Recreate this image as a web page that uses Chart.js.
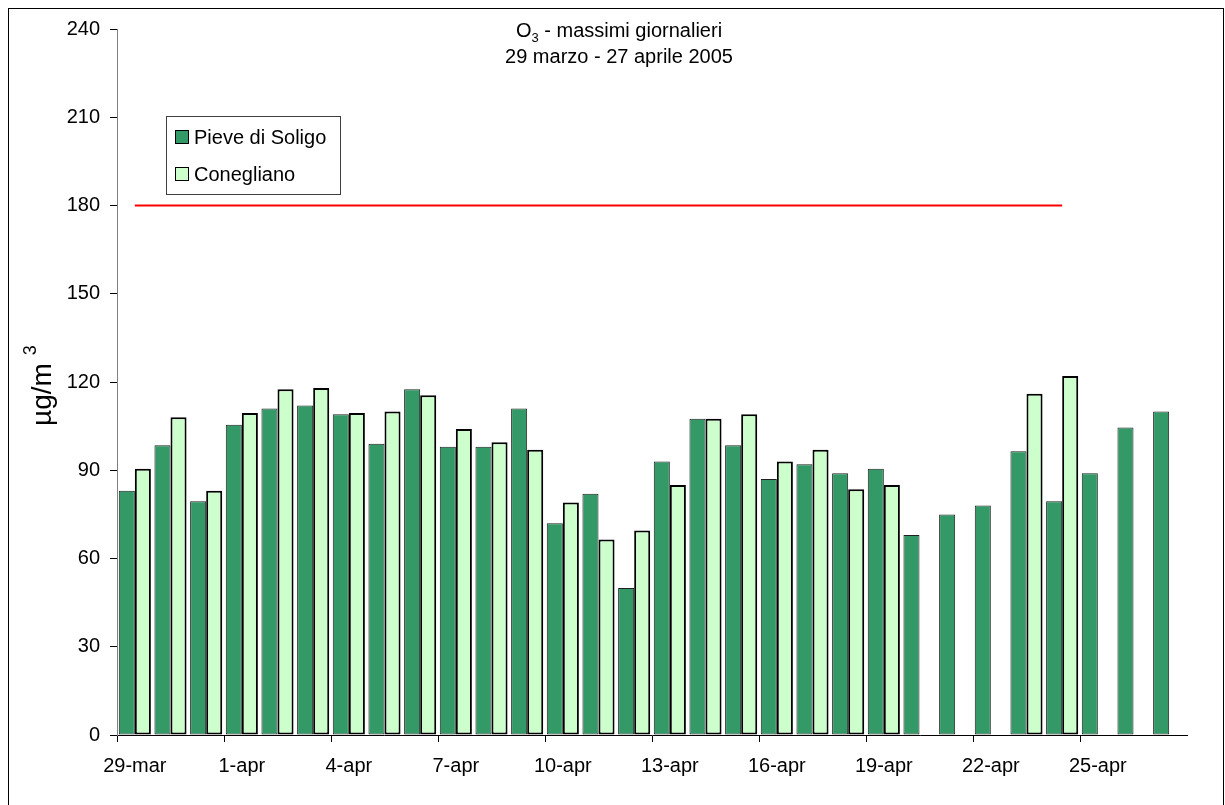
<!DOCTYPE html>
<html>
<head>
<meta charset="utf-8">
<title>O3 - massimi giornalieri</title>
<script src="https://cdn.jsdelivr.net/npm/chart.js@4.4.1/dist/chart.umd.min.js"></script>
<style>
    html, body { margin: 0; padding: 0; background: #fff; }
    #wrap { position: relative; width: 1225px; height: 805px; }
</style>
</head>
<body>
<div id="wrap"><canvas id="o3_chart"></canvas></div>
<script>
"use strict";

//--dati--
const giorni = [
    '29-mar', '30-mar', '31-mar', '1-apr', '2-apr', '3-apr', '4-apr', '5-apr', '6-apr', '7-apr',
    '8-apr', '9-apr', '10-apr', '11-apr', '12-apr', '13-apr', '14-apr', '15-apr', '16-apr', '17-apr',
    '18-apr', '19-apr', '20-apr', '21-apr', '22-apr', '23-apr', '24-apr', '25-apr', '26-apr', '27-apr'
];
const pieveDiSoligo = [
    83, 98.5, 79.5, 105.5, 111, 112, 109, 99, 117.5, 98,
    98, 111, 72, 82, 50, 93, 107.5, 98.5, 87, 92,
    89, 90.5, 68, 75, 78, 96.5, 79.5, 89, 104.5, 110
];
const conegliano = [
    90.5, 108, 83, 109.5, 117.5, 118, 109.5, 110, 115.5, 104,
    99.5, 97, 79, 66.5, 69.5, 85, 107.5, 109, 93, 97,
    83.5, 85, null, null, null, 116, 122, null, null, null
];
//soglia di informazione
const soglia = [
    180, 180, 180, 180, 180, 180, 180, 180, 180, 180,
    180, 180, 180, 180, 180, 180, 180, 180, 180, 180,
    180, 180, 180, 180, 180, 180, 180, null, null, null
];
const yTicks = [0, 30, 60, 90, 120, 150, 180, 210, 240];

const FONT = "'Liberation Sans', Arial, sans-serif";

//--testi disegnati a mano (pedici, apici, legenda, cornice)--
const textPlugin = {
    id: 'textPlugin',
    beforeDraw(chart) {
        const c = chart.ctx;
        c.save();
        c.fillStyle = '#fff';
        c.fillRect(0, 0, chart.width, chart.height);
        c.strokeStyle = '#000';
        c.lineWidth = 1;
        c.strokeRect(8.5, 8.5, 1215, 805);
        c.restore();
    },
    afterDraw(chart) {
        const c = chart.ctx;
        c.save();
        c.fillStyle = '#000';
        c.textBaseline = 'alphabetic';

        //titolo
        const cx = 619;
        c.font = '20px ' + FONT;
        const wO = c.measureText('O').width;
        const wRest = c.measureText(' - massimi giornalieri').width;
        c.font = '13px ' + FONT;
        const w3 = c.measureText('3').width;
        let x = cx - (wO + w3 + wRest) / 2;
        c.font = '20px ' + FONT;
        c.textAlign = 'left';
        c.fillText('O', x, 37);
        c.font = '13px ' + FONT;
        c.fillText('3', x + wO, 42);
        c.font = '20px ' + FONT;
        c.fillText(' - massimi giornalieri', x + wO + w3, 37);
        c.textAlign = 'center';
        c.fillText('29 marzo - 27 aprile 2005', cx, 63);

        //titolo asse y
        c.save();
        c.translate(51, 426);
        c.rotate(-Math.PI / 2);
        c.textAlign = 'left';
        c.font = '28px ' + FONT;
        const wu = c.measureText('\u00b5g/m').width;
        c.fillText('\u00b5g/m', 0, 0);
        c.font = '18px ' + FONT;
        c.fillText('3', wu + 8, -15);
        c.restore();

        //legenda
        c.fillStyle = '#fff';
        c.fillRect(166.5, 116.5, 174, 78);
        c.strokeStyle = '#404040';
        c.lineWidth = 1;
        c.strokeRect(166.5, 116.5, 174, 78);
        const rows = [137, 174];
        chart.data.datasets.filter(d => d.type !== 'line').forEach((d, i) => {
            c.fillStyle = d.backgroundColor;
            c.fillRect(175.5, rows[i] - 6.5, 13, 13);
            c.strokeStyle = '#000';
            c.strokeRect(175.5, rows[i] - 6.5, 13, 13);
            c.fillStyle = '#000';
            c.font = '20px ' + FONT;
            c.textAlign = 'left';
            c.textBaseline = 'middle';
            c.fillText(d.label, 194, rows[i] + 1);
        });
        c.restore();
    }
};

const ctx = document.getElementById('o3_chart');

const data = {
    labels: giorni,
    datasets: [{
        type: 'line',
        label: 'soglia',
        data: soglia,
        borderColor: '#ff0000',
        borderWidth: 2,
        pointRadius: 0,
        fill: false,
        order: 0,
    }, {
        type: 'bar',
        label: 'Pieve di Soligo',
        data: pieveDiSoligo,
        backgroundColor: '#339966',
        borderColor: '#202020',
        borderWidth: 1,
        borderSkipped: false,
        order: 1,
    }, {
        type: 'bar',
        label: 'Conegliano',
        data: conegliano,
        backgroundColor: '#ccffcc',
        borderColor: '#000',
        borderWidth: 2,
        borderSkipped: false,
        order: 1,
    }]
};

const config = {
    type: 'bar',
    data: data,
    options: {
        responsive: true,
        maintainAspectRatio: false,
        animation: false,
        layout: {
            padding: { left: 0, right: 38, top: 29, bottom: 0 },
        },
        datasets: {
            bar: {
                categoryPercentage: 0.9,
                barPercentage: 1.0,
            },
        },
        scales: {
            x: {
                offset: true,
                grid: {
                    offset: true,
                    drawOnChartArea: false,
                    tickLength: 7,
                    tickColor: (c) => (c.index % 3 === 0 ? '#000' : 'rgba(0,0,0,0)'),
                },
                border: { color: '#000', width: 1 },
                ticks: {
                    autoSkip: false,
                    maxRotation: 0,
                    padding: 12,
                    color: '#000',
                    font: { family: FONT, size: 20 },
                    callback: (v, i) => (i % 3 === 0 ? giorni[i] : ''),
                },
                afterFit: (s) => { s.height = 70; },
            },
            y: {
                min: 0,
                max: 240,
                afterBuildTicks: (s) => { s.ticks = yTicks.map(v => ({ value: v })); },
                grid: {
                    drawOnChartArea: false,
                    tickLength: 7,
                    tickColor: '#000',
                },
                border: { color: '#808080', width: 1 },
                ticks: {
                    padding: 10,
                    color: '#000',
                    font: { family: FONT, size: 20 },
                },
                afterFit: (s) => { s.width = 117; },
            },
        },
        plugins: {
            legend: { display: false },
            title: { display: false },
            tooltip: { enabled: false },
        },
    },
    plugins: [textPlugin],
};

const o3Chart = new Chart(ctx, config);
</script>
</body>
</html>
